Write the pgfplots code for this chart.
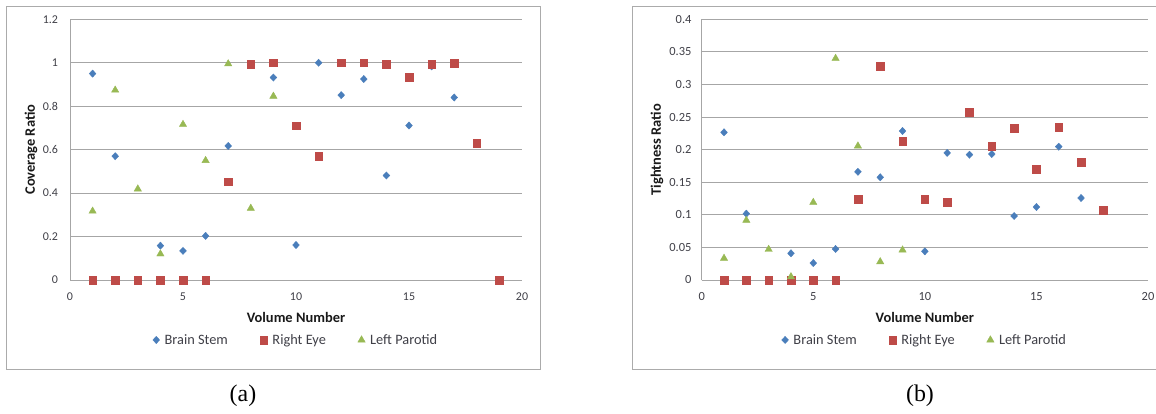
\documentclass[border=0pt]{standalone}
\usepackage{fontspec}
\setmainfont{Carlito}
\newfontfamily\capfont{Liberation Serif}
\usepackage{pgfplots}
\pgfplotsset{compat=1.18}
\definecolor{bs}{HTML}{4A7EBB}
\definecolor{re}{HTML}{BE4B48}
\definecolor{lp}{HTML}{98B954}
\definecolor{gridc}{HTML}{A6A6A6}
\definecolor{txt}{HTML}{404048}
\definecolor{framec}{HTML}{ABABAB}
\pgfplotsset{
  mystyle/.style={
    scale only axis, height=260.7bp,
    xmin=0, xmax=20, xtick={0,5,10,15,20},
    axis x line=bottom, axis y line=left,
    axis line style={gridc, line width=0.9bp, -},
    ymajorgrids, grid style={gridc, line width=0.9bp},
    major tick length=0pt,
    /pgf/number format/assume math mode=true,
    tick label style={text=txt},
    xticklabel style={yshift=-9bp},
    label style={font=\bfseries\fontsize{14.5}{16}\selectfont, text=black!90},
    xlabel style={at={(0.5,-0.142)}, anchor=center},
    legend style={at={(0.5,-0.23)}, anchor=center, draw=none, fill=none,
      legend columns=3, font=\fontsize{14.4}{16}\selectfont, text=txt,
      /tikz/every even column/.append style={column sep=30bp},
      /tikz/every odd column/.append style={column sep=3bp}},
    legend image code/.code={\draw[#1] plot coordinates {(0bp,0bp)};},
    clip=false,
  },
  bsS/.style={only marks, mark=diamond*, mark size=3.6bp, color=bs, mark options={xscale=1.25}},
  reS/.style={only marks, mark=square*, mark size=3.8bp, color=re},
  lpS/.style={only marks, mark=triangle*, mark size=4.2bp, color=lp},
}
\begin{document}
\begin{tikzpicture}
\useasboundingbox (0,0) rectangle (1156bp,414bp);
\fill[white] (0,0) rectangle (1156bp,414bp);
\draw[framec, line width=1bp] (6.7bp,407.7bp) rectangle (540.3bp,44bp);
\draw[framec, line width=1bp] (632.7bp,407.7bp) rectangle (1175bp,44bp);
\begin{axis}[mystyle, at={(70bp,134bp)}, anchor=south west, width=452bp,
  ymin=0, ymax=1.2, ytick={0,0.2,0.4,0.6,0.8,1,1.2},
  tick label style={font=\fontsize{12}{14}\selectfont},
  yticklabel style={xshift=-8.5bp},
  xlabel={Volume Number}, ylabel={Coverage Ratio},
  ylabel style={at={(-0.0863,0.5)}, anchor=center},
  ]
\addplot[bsS] coordinates {(1,0.95)(2,0.57)(4,0.158)(5,0.134)(6,0.203)(7,0.617)(9,0.932)(10,0.161)(11,1.0)(12,0.851)(13,0.925)(14,0.481)(15,0.711)(16,0.983)(17,0.840)};
\addlegendentry{Brain Stem}
\addplot[reS] coordinates {(1,0)(2,0)(3,0)(4,0)(5,0)(6,0)(7,0.453)(8,0.994)(9,1.0)(10,0.71)(11,0.571)(12,1.0)(13,1.0)(14,0.994)(15,0.934)(16,0.992)(17,0.998)(18,0.63)(19,0)};
\addlegendentry{Right Eye}
\addplot[lpS] coordinates {(1,0.317)(2,0.874)(3,0.419)(4,0.12)(5,0.716)(6,0.55)(7,0.995)(8,0.33)(9,0.846)};
\addlegendentry{Left Parotid}
\end{axis}
\begin{axis}[mystyle, at={(701.7bp,134bp)}, anchor=south west, width=446.3bp,
  ymin=0, ymax=0.4, ytick={0,0.05,0.1,0.15,0.2,0.25,0.3,0.35,0.4},
  scaled y ticks=false,
  yticklabel style={/pgf/number format/fixed, /pgf/number format/precision=2, xshift=-6.7bp},
  tick label style={font=\fontsize{12.5}{14}\selectfont},
  xlabel={Volume Number}, ylabel={Tightness Ratio},
  ylabel style={at={(-0.1002,0.5)}, anchor=center},
  ]
\addplot[bsS] coordinates {(1,0.2266)(2,0.1018)(4,0.041)(5,0.026)(6,0.0476)(7,0.166)(8,0.1576)(9,0.2286)(10,0.044)(11,0.195)(12,0.1923)(13,0.1933)(14,0.0982)(15,0.112)(16,0.2046)(17,0.1258)};
\addlegendentry{Brain Stem}
\addplot[reS] coordinates {(1,0)(2,0)(3,0)(4,0)(5,0)(6,0)(7,0.1243)(8,0.328)(9,0.2128)(10,0.1243)(11,0.1197)(12,0.2573)(13,0.2056)(14,0.2328)(15,0.170)(16,0.2343)(17,0.1806)(18,0.107)};
\addlegendentry{Right Eye}
\addplot[lpS] coordinates {(1,0.0333)(2,0.0916)(3,0.047)(4,0.005)(5,0.119)(6,0.340)(7,0.2056)(8,0.028)(9,0.046)};
\addlegendentry{Left Parotid}
\end{axis}
\node[font=\capfont\fontsize{24}{28}\selectfont] at (243bp,18bp) {(a)};
\node[font=\capfont\fontsize{24}{28}\selectfont] at (920bp,18bp) {(b)};
\end{tikzpicture}
\end{document}
